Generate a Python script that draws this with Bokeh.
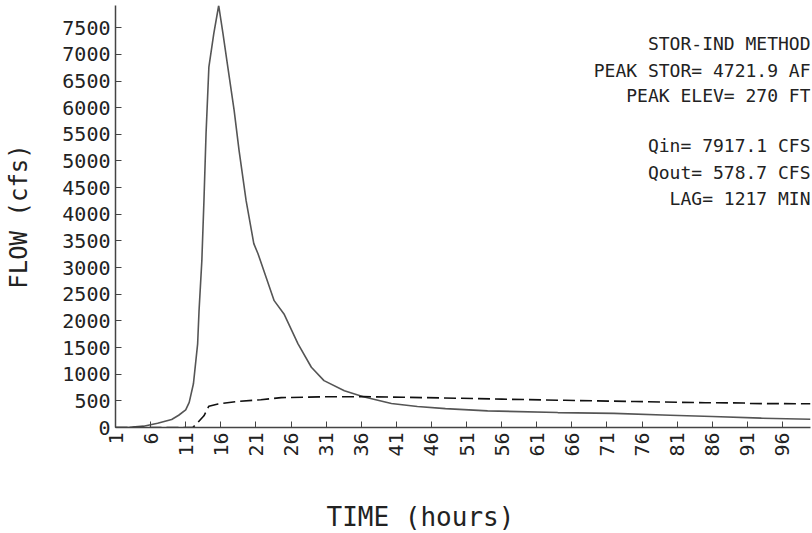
import math
from bokeh.plotting import figure
from bokeh.models import Range1d, FixedTicker, Label, Title
from bokeh.embed import file_html
from bokeh.resources import INLINE

# ---- data ----
inflow_hours = [1, 3, 5, 7, 9, 10, 11, 11.5, 12.1, 12.7, 12.9, 13.3, 13.6, 13.9, 14.3, 15.0, 15.7,
                16.3, 17.0, 17.9, 18.6, 19.6, 20.7, 21.3, 22.5, 23.6, 25.0, 27.0, 28.9, 30.7,
                33.6, 36.3, 40.3, 44, 48, 54, 64, 72, 80, 86, 93, 100]
inflow_cfs = [0, 5, 25, 80, 150, 230, 330, 470, 820, 1570, 2190, 3130, 4260, 5520, 6760, 7390, 7917,
              7400, 6760, 5950, 5200, 4260, 3450, 3260, 2800, 2380, 2130, 1570, 1130, 880,
              690, 578, 450, 395, 355, 312, 280, 265, 230, 205, 175, 155]

outflow_hours = [1, 12.0, 12.7, 13.6, 14.3, 15.6, 18.4, 21.7, 24.6, 30, 36.3, 42, 50, 56, 65, 75,
                 85, 90.5, 91, 100]
outflow_cfs = [0, 0, 90, 220, 400, 440, 490, 520, 560, 575, 578.7, 568, 548, 532, 510, 487,
               465, 460, 450, 445]

x_ticks = list(range(1, 100, 5))
y_ticks = list(range(0, 8000, 500))

notes = ["STOR-IND METHOD", "PEAK STOR= 4721.9 AF", "PEAK ELEV= 270 FT",
         "Qin= 7917.1 CFS", "Qout= 578.7 CFS", "LAG= 1217 MIN"]
note_y = [384, 357, 332, 282, 255, 229]  # screen offsets from frame bottom

FONT = "DejaVu Sans Mono"
INK = "#222222"

p = figure(width=812, height=533, output_backend="svg", toolbar_location=None,
           x_range=Range1d(1, 100), y_range=Range1d(0, 7917),
           min_border_left=115, min_border_right=2, min_border_top=5, min_border_bottom=106)
p.outline_line_color = None
p.xgrid.visible = False
p.ygrid.visible = False
p.background_fill_color = "white"
p.border_fill_color = "white"

p.line(inflow_hours, inflow_cfs, line_color="#555555", line_width=1.6)
p.line(outflow_hours, outflow_cfs, line_color="#111111", line_width=1.6, line_dash="12 5")

for ax in (p.xaxis[0], p.yaxis[0]):
    ax.axis_line_color = "#444444"
    ax.axis_line_width = 1.5
    ax.major_tick_in = 6
    ax.major_tick_out = 0
    ax.major_tick_line_color = "#444444"
    ax.minor_tick_line_color = None
    ax.major_label_text_font = FONT
    ax.major_label_text_font_size = "20px"
    ax.major_label_text_color = INK
    ax.major_label_standoff = 5

p.xaxis.ticker = FixedTicker(ticks=x_ticks)
p.xaxis.major_label_orientation = math.pi / 2
p.yaxis.ticker = FixedTicker(ticks=y_ticks)
# blank axis label used only to leave room between tick labels and the x title
p.xaxis.axis_label = "\u00a0"
p.xaxis.axis_label_text_font_size = "1px"
p.xaxis.axis_label_standoff = 35

p.yaxis.axis_label = "FLOW (cfs)"
p.yaxis.axis_label_text_font = FONT
p.yaxis.axis_label_text_font_style = "normal"
p.yaxis.axis_label_text_font_size = "24px"
p.yaxis.axis_label_text_color = INK
p.yaxis.axis_label_standoff = 26

t = Title(text="TIME (hours)", align="left", offset=211, standoff=2, vertical_align="bottom",
          text_font=FONT, text_font_style="normal", text_font_size="26px", text_color=INK)
p.add_layout(t, "below")

for txt, yy in zip(notes, note_y):
    p.add_layout(Label(x=695, y=yy, x_units="screen", y_units="screen", text=txt,
                       text_align="right", text_baseline="middle", text_font=FONT,
                       text_font_size="18px", text_color=INK))

open("out.html", "w").write(file_html(p, INLINE))
